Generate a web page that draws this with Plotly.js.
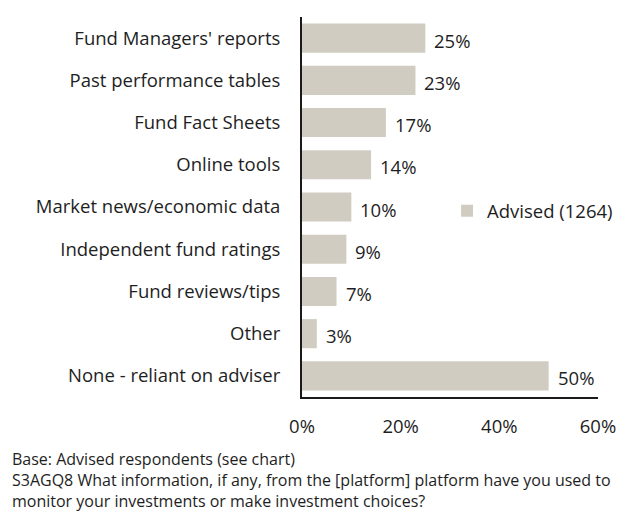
<!DOCTYPE html>
<html>
<head>
<meta charset="utf-8">
<script src="https://cdn.plot.ly/plotly-3.0.1.min.js"></script>
<style>html,body{margin:0;padding:0;background:#fff;}#chart{width:637px;height:513px;}</style>
</head>
<body>
<div id="chart"></div>
<script>
var categories = ["Fund Managers' reports","Past performance tables","Fund Fact Sheets","Online tools","Market news/economic data","Independent fund ratings","Fund reviews/tips","Other","None - reliant on adviser"];
var values = [25, 23, 17, 14, 10, 9, 7, 3, 50];
var seriesName = "Advised (1264)";
var xTickVals = [0, 20, 40, 60];
var xTickText = ["0%", "20%", "40%", "60%"];
var footnotes = ["Base: Advised respondents (see chart)", "S3AGQ8 What information, if any, from the [platform] platform have you used to", "monitor your investments or make investment choices?"];

var FONT = "'Open Sans', sans-serif";
var TXT = "#1e1e1e";
var FS = 18.5;

var trace = {
  type: "bar", orientation: "h",
  x: values, y: categories, name: seriesName,
  marker: {color: "#d0ccc2"},
  hoverinfo: "none", showlegend: true
};

var annotations = values.map(function(v, i){
  return {x: v, y: categories[i], xref: "x", yref: "y", text: v + "%", showarrow: false,
    xanchor: "left", yanchor: "middle", xshift: 7, yshift: -2, font: {family: FONT, size: FS, color: TXT}};
});
annotations.push({x: -0.985, y: -0.219, xref: "paper", yref: "paper", text: footnotes.join("<br>"),
  showarrow: false, align: "left", xanchor: "left", yanchor: "middle",
  font: {family: FONT, size: 16, color: TXT}});

var layout = {
  width: 637, height: 513,
  margin: {l: 302, r: 39, t: 17, b: 116},
  paper_bgcolor: "#fff", plot_bgcolor: "#fff",
  bargap: 0.31,
  font: {family: FONT, size: FS, color: TXT},
  xaxis: {range: [0, 60], tickvals: xTickVals, ticktext: xTickText, showgrid: false, zeroline: false,
    showline: true, linecolor: "#1a1a1a", linewidth: 2, ticks: "", ticklabelstandoff: 12,
    tickfont: {family: FONT, size: FS, color: TXT}},
  yaxis: {autorange: "reversed", type: "category", showgrid: false, zeroline: false,
    showline: true, linecolor: "#1a1a1a", linewidth: 2, ticks: "", ticklabelstandoff: 16,
    tickfont: {family: FONT, size: FS, color: TXT}},
  legend: {x: 0.49, xanchor: "left", y: 0.489, yanchor: "middle", bgcolor: "rgba(0,0,0,0)",
    font: {family: FONT, size: FS, color: TXT}},
  annotations: annotations
};

Plotly.newPlot("chart", [trace], layout, {staticPlot: true, displayModeBar: false});
</script>
</body>
</html>
